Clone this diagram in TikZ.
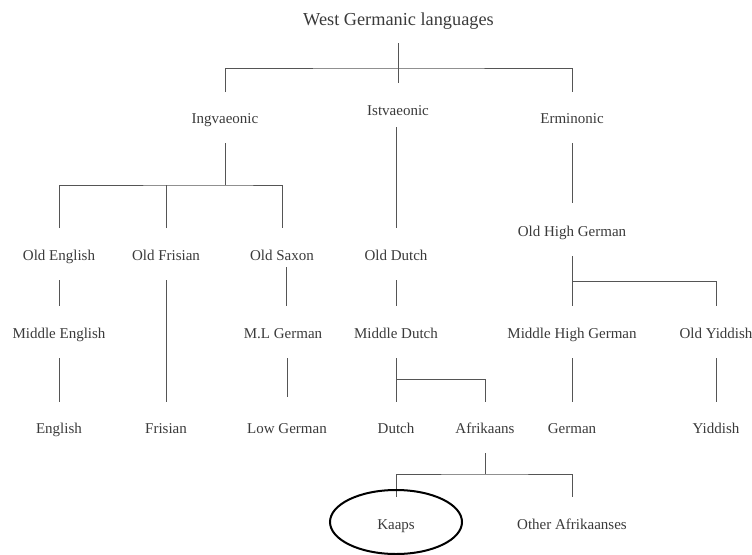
\documentclass[tikz,border=0pt]{standalone}
\usepackage{fontspec}
\setmainfont{Liberation Serif}
\usetikzlibrary{calc}
\definecolor{ink}{HTML}{3A3A3A}
\definecolor{wire}{HTML}{555555}
\tikzset{
  lang/.style={text=ink, font=\fontsize{15}{17}\selectfont, inner sep=0pt,
    text height=10pt, text depth=0pt, anchor=center},
  root/.style={lang, font=\fontsize{18.3}{20}\selectfont, text height=12pt, text depth=0pt},
  wireline/.style={draw=wire, line width=1pt},
  ring/.style={draw=black, line width=2pt}
}
\begin{document}
\begin{tikzpicture}[x=1pt,y=-1pt]
\useasboundingbox (0,0) rectangle (752,554);

% language names
\node[root] (west) at (398.5,19) {West Germanic languages};
\node[lang] (ingv) at (225,118) {Ingvaeonic};
\node[lang] (istv) at (398,110) {Istvaeonic};
\node[lang] (ermi) at (572,118) {Erminonic};
\node[lang] (ohg)  at (572,231) {Old High German};
\node[lang] (oe)   at (59,255)  {Old English};
\node[lang] (ofr)  at (166,255) {Old Frisian};
\node[lang] (osax) at (282,255) {Old Saxon};
\node[lang] (odu)  at (396,255) {Old Dutch};
\node[lang] (me)   at (59,333)  {Middle English};
\node[lang] (mlg)  at (283,333) {M.L German};
\node[lang] (mdu)  at (396,333) {Middle Dutch};
\node[lang] (mhg)  at (572,333) {Middle High German};
\node[lang] (oyi)  at (716,333) {Old Yiddish};
\node[lang] (en)   at (59,428)  {English};
\node[lang] (fri)  at (166,428) {Frisian};
\node[lang] (lg)   at (287,428) {Low German};
\node[lang] (du)   at (396,428) {Dutch};
\node[lang] (afr)  at (485,428) {Afrikaans};
\node[lang] (ger)  at (572,428) {German};
\node[lang] (yid)  at (716,428) {Yiddish};
\node[lang] (kaaps) at (396,524) {Kaaps};
\node[lang] (oafr) at (572,524) {Other Afrikaanses};

% West Germanic split
\draw[wireline] ($(west)+(0,24)$) -- ($(west)+(0,64)$);
\draw[wireline] ($(ingv)+(0,-26)$) |- ($(west)+(0,49)$) -| ($(ermi)+(0,-26)$);

% Ingvaeonic branch
\draw[wireline] ($(ingv)+(0,25)$) -- ($(ingv)+(0,67)$);
\draw[wireline] ($(oe)+(0,-27)$) |- ($(ingv)+(0,67)$) -| ($(osax)+(0,-27)$);
\draw[wireline] ($(ofr)+(0,-27)$) -- ($(ofr)+(0,-70)$);
\draw[wireline] ($(oe)+(0,25)$) -- ($(me)+(0,-27)$);
\draw[wireline] ($(me)+(0,25)$) -- ($(en)+(0,-26)$);
\draw[wireline] ($(ofr)+(0,25)$) -- ($(fri)+(0,-26)$);
\draw[wireline] ($(osax)+(4,12)$) -- ($(mlg)+(3,-27)$);
\draw[wireline] ($(mlg)+(4,25)$) -- ($(lg)+(0,-31)$);

% Istvaeonic branch
\draw[wireline] ($(istv)+(-2,17)$) -- ($(odu)+(0,-27)$);
\draw[wireline] ($(odu)+(0,25)$) -- ($(mdu)+(0,-27)$);
\draw[wireline] ($(mdu)+(0,25)$) -- ($(du)+(0,-26)$);
\draw[wireline] ($(mdu)+(0,46)$) -| ($(afr)+(0,-26)$);
\draw[wireline] ($(afr)+(0,25)$) -- ($(afr)+(0,46)$);
\draw[wireline] ($(kaaps)+(0,-27)$) |- ($(afr)+(0,46)$) -| ($(oafr)+(0,-27)$);

% Erminonic branch
\draw[wireline] ($(ermi)+(0,25)$) -- ($(ohg)+(0,-28)$);
\draw[wireline] ($(ohg)+(0,25)$) -- ($(mhg)+(0,-27)$);
\draw[wireline] ($(ohg)+(0,50)$) -| ($(oyi)+(0,-27)$);
\draw[wireline] ($(mhg)+(0,25)$) -- ($(ger)+(0,-26)$);
\draw[wireline] ($(oyi)+(0,25)$) -- ($(yid)+(0,-26)$);

% highlighted variety
\draw[ring] ($(kaaps)+(0,-2)$) ellipse [x radius=66, y radius=32];
\end{tikzpicture}
\end{document}
